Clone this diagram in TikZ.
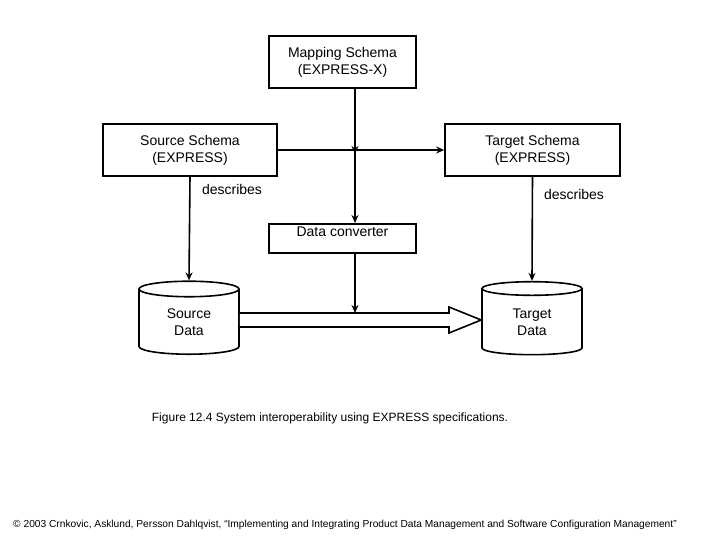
\documentclass[tikz,border=0pt]{standalone}
\usepackage{fontspec}
\setmainfont{Liberation Sans}
\usetikzlibrary{shapes.geometric,arrows.meta}
\tikzset{
  schemabox/.style={draw, thick, align=center, inner sep=0pt},
  datastore/.style={cylinder, shape border rotate=90, draw, thick, align=center,
    minimum width=50pt, minimum height=36.5pt, aspect=0.35, inner sep=0pt},
  flow/.style={thick, -{Stealth[length=4pt,width=3.5pt]}}
}
\begin{document}
\begin{tikzpicture}[x=0.5pt,y=-0.5pt,font=\fontsize{7}{8.5}\selectfont]
  \useasboundingbox (0,0) rectangle (720,540);

  \node[schemabox, minimum width=73.5pt, minimum height=26pt] (map) at (342.5,62) {Mapping Schema\\(EXPRESS-X)};
  \node[schemabox, minimum width=87pt, minimum height=26pt] (src) at (190,150) {Source Schema\\(EXPRESS)};
  \node[schemabox, minimum width=87.5pt, minimum height=26pt] (tgt) at (532.5,150) {Target Schema\\(EXPRESS)};
  \node[schemabox, minimum width=73.5pt, minimum height=14.5pt, anchor=north] (conv) at (342.5,223) {};
  \node (convtext) at (342.5,232) {Data converter};

  \node[datastore] (srcdata) at (189,322) {Source\\Data};
  \node[datastore] (tgtdata) at (532,322) {Target\\Data};

  \coordinate (cross) at (355,150);
  \coordinate (tip) at (355,313);

  \draw[flow] (src.east) -- (tgt.west); % schema mapping
  \draw[thick] (map.south -| cross) -- (cross);
  \draw[flow] (map.south -| cross) -- ([yshift=-2pt]cross);
  \draw[flow] (cross) -- (conv.north -| cross);
  \draw[flow] (conv.south -| cross) -- (tip);
  \draw[flow] (src.south) -- (srcdata.north);
  \draw[flow] (tgt.south) -- (tgtdata.north);

  \node (d1) at (232,189) {describes};
  \node (d2) at (574,194) {describes};

  % hollow data arrow
  \draw[thick, fill=white] (srcdata.east |- 0,313) -- (449,313) -- (449,307) -- (tgtdata.west |- 0,320)
    -- (449,333) -- (449,327) -- (srcdata.east |- 0,327);

  \node[font=\fontsize{6}{7}\selectfont] (cap) at (330,418) {Figure 12.4 System interoperability using EXPRESS specifications.};
  \node[font=\fontsize{5.1}{6}\selectfont] (credit) at (345,525) {© 2003 Crnkovic, Asklund, Persson Dahlqvist, ``Implementing and Integrating Product Data Management and Software Configuration Management''};
\end{tikzpicture}
\end{document}
